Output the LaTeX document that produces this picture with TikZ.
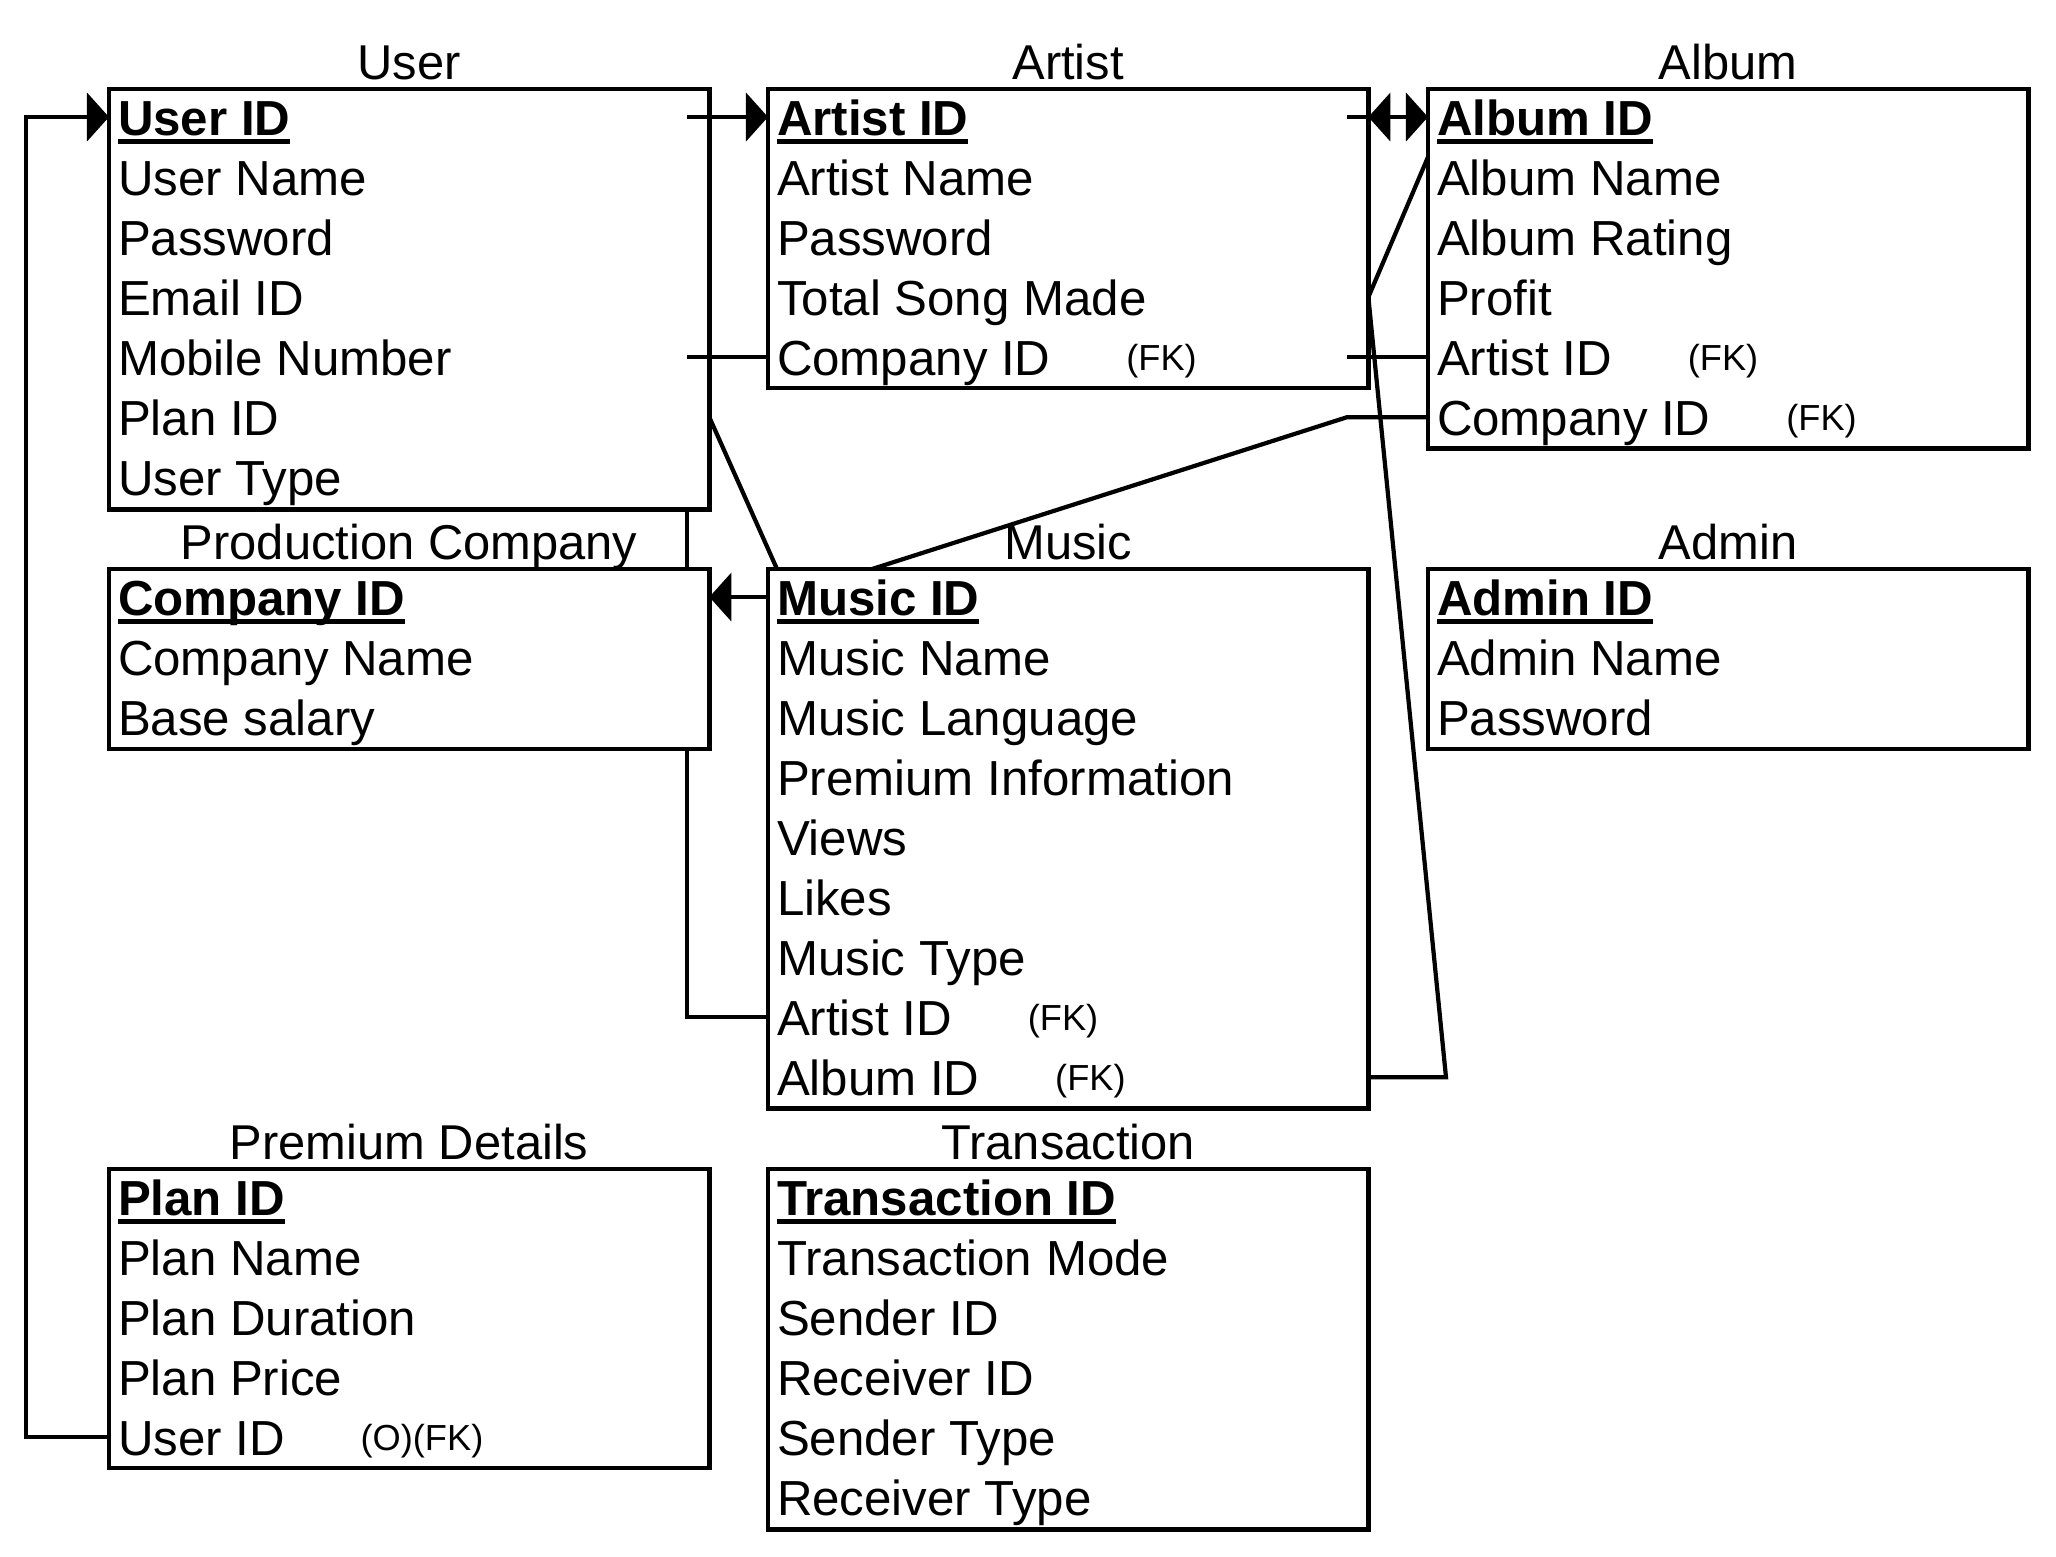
\documentclass[tikz,border=0pt]{standalone}
\usepackage{fontspec}
\setmainfont{Liberation Sans}
\usetikzlibrary{arrows.meta,positioning}

\newcommand{\pk}[1]{\setbox0\hbox{\bfseries #1}\rlap{\raisebox{-0.09cm}{\rule{\wd0}{0.05cm}}}\box0}

\tikzset{
	tbl/.style={draw, line width=1.3pt, fill=white, minimum width=6cm, outer sep=0pt, anchor=north west},
	ttl/.style={above=0.1cm of #1.north, anchor=base, inner sep=0pt, font=\fontsize{13.9}{16}\selectfont},
	fld/.style={anchor=north west, inner sep=0pt, outer sep=0pt, text height=0.48cm, text depth=0.12cm, font=\fontsize{14}{16}\selectfont},
	nxt/.style={fld, below=0pt of #1.south west, anchor=north west},
	fkey/.style={right=0.75cm of #1, yshift=-0.04cm, inner sep=0pt, font=\fontsize{10.3}{12}\selectfont},
	conn/.style={line width=1.2pt},
	conntip/.style={-{Triangle[length=2.2mm,width=4.8mm]}}
}

\begin{document}
\begin{tikzpicture}[x=0.01cm, y=-0.01cm]
	\useasboundingbox (0,0) rectangle (2056,1556);
	
	% tables
	\node[tbl, minimum height=4.2cm] (user) at (109,89) {};
	\node[tbl, minimum height=2.99cm] (artist) at (768,89) {};
	\node[tbl, minimum height=3.59cm] (album) at (1428,89) {};
	\node[tbl, minimum height=1.8cm] (company) at (109,569) {};
	\node[tbl, minimum height=5.39cm] (music) at (768,569) {};
	\node[tbl, minimum height=1.8cm] (admin) at (1428,569) {};
	\node[tbl, minimum height=2.99cm] (plan) at (109,1169) {};
	\node[tbl, minimum height=3.6cm] (trans) at (768,1169) {};
	
	\node[ttl=user] (tuser) {User};
	\node[ttl=artist] (tartist) {Artist};
	\node[ttl=album] (talbum) {Album};
	\node[ttl=company] (tcompany) {Production Company};
	\node[ttl=music] (tmusic) {Music};
	\node[ttl=admin] (tadmin) {Admin};
	\node[ttl=plan] (tplan) {Premium Details};
	\node[ttl=trans] (ttrans) {Transaction};
	
	% user
	\node[fld] (u1) at (118,87) {\pk{User ID}};
	\node[nxt=u1] (u2) {User Name};
	\node[nxt=u2] (u3) {Password};
	\node[nxt=u3] (u4) {Email ID};
	\node[nxt=u4] (u5) {Mobile Number};
	\node[nxt=u5] (u6) {Plan ID};
	\node[nxt=u6] (u7) {User Type};
	
	% artist
	\node[fld] (a1) at (777,87) {\pk{Artist ID}};
	\node[nxt=a1] (a2) {Artist Name};
	\node[nxt=a2] (a3) {Password};
	\node[nxt=a3] (a4) {Total Song Made};
	\node[nxt=a4] (a5) {Company ID};
	\node[fkey=a5] (a5fk) {(FK)};
	
	% album
	\node[fld] (al1) at (1437,87) {\pk{Album ID}};
	\node[nxt=al1] (al2) {Album Name};
	\node[nxt=al2] (al3) {Album Rating};
	\node[nxt=al3] (al4) {Profit};
	\node[nxt=al4] (al5) {Artist ID};
	\node[fkey=al5] (al5fk) {(FK)};
	\node[nxt=al5] (al6) {Company ID};
	\node[fkey=al6] (al6fk) {(FK)};
	
	% production company
	\node[fld] (c1) at (118,567) {\pk{Company ID}};
	\node[nxt=c1] (c2) {Company Name};
	\node[nxt=c2] (c3) {Base salary};
	
	% music
	\node[fld] (m1) at (777,567) {\pk{Music ID}};
	\node[nxt=m1] (m2) {Music Name};
	\node[nxt=m2] (m3) {Music Language};
	\node[nxt=m3] (m4) {Premium Information};
	\node[nxt=m4] (m5) {Views};
	\node[nxt=m5] (m6) {Likes};
	\node[nxt=m6] (m7) {Music Type};
	\node[nxt=m7] (m8) {Artist ID};
	\node[fkey=m8] (m8fk) {(FK)};
	\node[nxt=m8] (m9) {Album ID};
	\node[fkey=m9] (m9fk) {(FK)};
	
	% admin
	\node[fld] (d1) at (1437,567) {\pk{Admin ID}};
	\node[nxt=d1] (d2) {Admin Name};
	\node[nxt=d2] (d3) {Password};
	
	% premium details
	\node[fld] (p1) at (118,1167) {\pk{Plan ID}};
	\node[nxt=p1] (p2) {Plan Name};
	\node[nxt=p2] (p3) {Plan Duration};
	\node[nxt=p3] (p4) {Plan Price};
	\node[nxt=p4] (p5) {User ID};
	\node[fkey=p5] (p5fk) {(O)(FK)};
	
	% transaction
	\node[fld] (t1) at (777,1167) {\pk{Transaction ID}};
	\node[nxt=t1] (t2) {Transaction Mode};
	\node[nxt=t2] (t3) {Sender ID};
	\node[nxt=t3] (t4) {Receiver ID};
	\node[nxt=t4] (t5) {Sender Type};
	\node[nxt=t5] (t6) {Receiver Type};
	
	% connectors
	\coordinate (loopL) at (26,0);
	\coordinate (busL) at (687,0);
	\coordinate (busR) at (1347,0);
	\coordinate (busA) at (1446,0);
	
	\draw[conn, conntip] (plan.west |- p5) -- (loopL |- p5) -- (loopL |- u1) -- (user.west |- u1);
	\draw[conn, conntip] (busL |- u1) -- (artist.west |- a1);
	\draw[conn] (busL |- u5) -- (artist.west |- a5);
	\draw[conn] (busL |- user.south) -- (busL |- company.north);
	\draw[conn] (busL |- company.south) -- (busL |- m8) -- (music.west |- m8);
	\draw[conn] (user.east |- u6) -- ([xshift=0.09cm]music.north west);
	\draw[conn, conntip] (music.west |- m1) -- (company.east |- m1);
	
	\draw[conn, conntip] (busR |- a1) -- (album.west |- al1);
	\draw[conn, conntip] (album.west |- al1) -- (artist.east |- a1);
	\draw[conn] (busR |- a5) -- (album.west |- al5);
	\draw[conn] (album.west |- al6) -- (busR |- al6) -- ([xshift=1.04cm]music.north west);
	\draw[conn] (music.east |- m9) -- (busA |- m9) -- (artist.east |- a4) -- ([yshift=-0.1cm]album.west |- al2.north);
\end{tikzpicture}
\end{document}
